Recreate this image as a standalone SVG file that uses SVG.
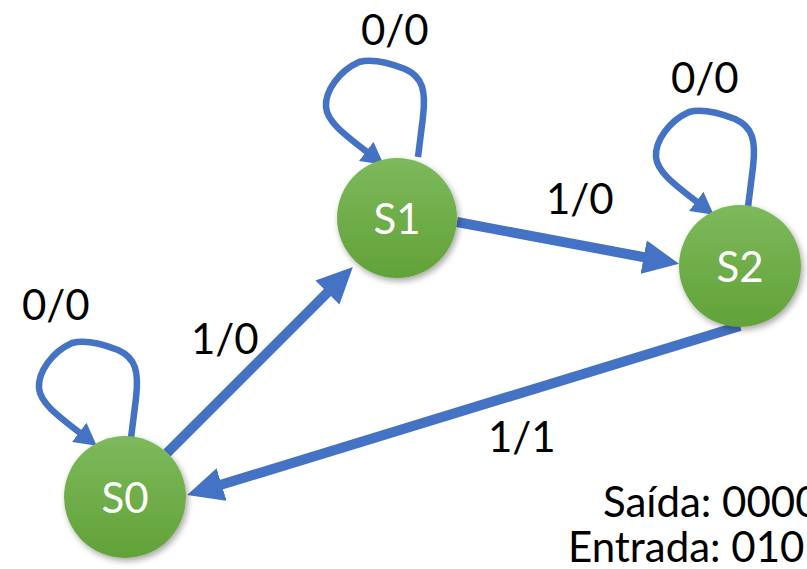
<svg xmlns="http://www.w3.org/2000/svg" width="807" height="569" viewBox="0 0 807 569">
<defs>
<linearGradient id="g" x1="0" y1="0" x2="0" y2="1">
<stop offset="0" stop-color="#7db95c"/>
<stop offset="1" stop-color="#62a238"/>
</linearGradient>
<filter id="sh" x="-20%" y="-20%" width="150%" height="150%">
<feDropShadow dx="2" dy="3" stdDeviation="3" flood-color="#000" flood-opacity="0.35"/>
</filter>
<marker id="big" markerUnits="userSpaceOnUse" viewBox="0 0 36 34" markerWidth="36" markerHeight="34" refX="10" refY="17" orient="auto">
<path d="M0,0 L36,17 L0,34 z" fill="#4472c4"/>
</marker>
<marker id="small" markerUnits="userSpaceOnUse" viewBox="0 0 22 24" markerWidth="22" markerHeight="24" refX="6" refY="12" orient="auto">
<path d="M0,0 L22,12 L0,24 z" fill="#4472c4"/>
</marker>
<path id="loop" d="M131,438 L136,398 C139,372 136,358 118,350 C100,343 84,340 72,343 C52,352 38,372 39,388 C40,402 55,414 84,436"/>
</defs>
<style>
.node{fill:url(#g);filter:url(#sh)}
.nt{font-family:Lato,"Open Sans",sans-serif;font-size:42px;fill:#fff;text-anchor:middle}
.lbl{font-family:Lato,"Open Sans",sans-serif;font-size:42px;fill:#000}
.edge{fill:none;stroke:#4472c4;stroke-width:10;marker-end:url(#big)}
.self{fill:none;stroke:#4472c4;stroke-width:6.5;marker-end:url(#small)}
</style>
<g id="connectors">
<path class="edge" d="M167,453 L334.5,285.5"/>
<path class="edge" d="M457,222 L653.5,259"/>
<path class="edge" d="M740,326 L212,487.5"/>
<use href="#loop" class="self"/>
<use href="#loop" class="self" transform="translate(287,-281)"/>
<use href="#loop" class="self" transform="translate(617,-231)"/>
</g>
<g id="S0">
<circle class="node" cx="125" cy="497" r="61"/>
<text class="nt" x="125" y="513">S0</text>
</g>
<g id="S1">
<circle class="node" cx="397" cy="218" r="60"/>
<text class="nt" x="397" y="234">S1</text>
</g>
<g id="S2">
<circle class="node" cx="740" cy="266" r="61"/>
<text class="nt" x="740" y="282">S2</text>
</g>
<g id="labels">
<text class="lbl" x="22" y="320">0/0</text>
<text class="lbl" x="361" y="45">0/0</text>
<text class="lbl" x="671" y="93">0/0</text>
<text class="lbl" x="191" y="354">1/0</text>
<text class="lbl" x="546" y="214">1/0</text>
<text class="lbl" x="488" y="452">1/1</text>
<text class="lbl" x="603" y="517">Saída: 0000</text>
<text class="lbl" x="568" y="562">Entrada: 010</text>
</g>
</svg>
